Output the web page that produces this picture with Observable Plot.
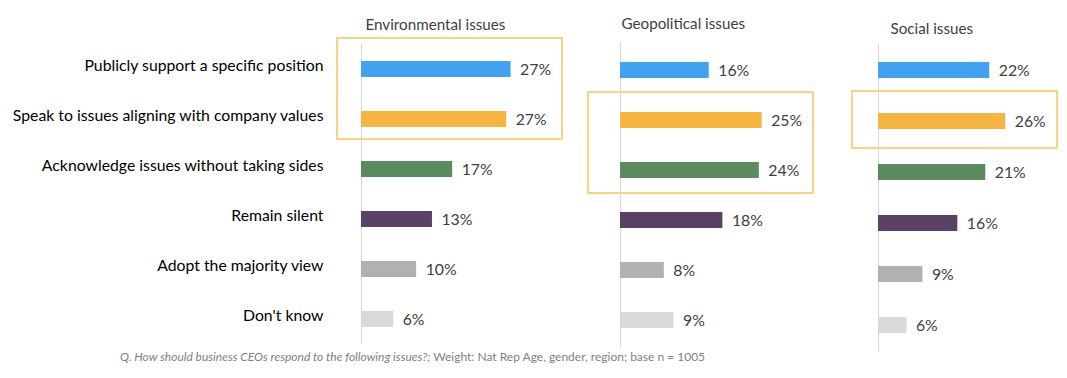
<!DOCTYPE html>
<html><head><meta charset="utf-8">
<script src="https://cdn.jsdelivr.net/npm/d3@7"></script>
<script src="https://cdn.jsdelivr.net/npm/@observablehq/plot@0.6"></script>
<style>
body{margin:0;background:#fff;overflow:hidden}
#chart{position:relative;width:1067px;height:378px;font-family:Lato,sans-serif}
#chart svg{position:absolute;top:0;overflow:visible;font-family:Lato,sans-serif}
#caption{position:absolute;left:120px;top:350px;font-size:12px;line-height:14px;color:#7f7f7f;white-space:nowrap}
</style></head><body><div id="chart"></div>
<script>
const responses = ["Publicly support a specific position","Speak to issues aligning with company values","Acknowledge issues without taking sides","Remain silent","Adopt the majority view","Don't know"];
const colors = ["#44a0f1","#f4b542","#5a8a5d","#5c4167","#b1b1b1","#d9d9d9"];
const panelTitles = ["Environmental issues","Geopolitical issues","Social issues"];
const environmental = [27.4, 26.6, 16.7, 13.0, 10.1, 5.9];
const geopolitical = [15.6, 24.9, 24.4, 18.0, 7.7, 9.4];
const social = [22.3, 25.5, 21.5, 15.9, 8.9, 5.7];
const environmentalLabels = ["27%","27%","17%","13%","10%","6%"];
const geopoliticalLabels = ["16%","25%","24%","18%","8%","9%"];
const socialLabels = ["22%","26%","21%","16%","9%","6%"];
const highlighted = [[responses[0], responses[1]], [responses[1], responses[2]], [responses[1]]];
const caption = ["Q. How should business CEOs respond to the following issues?;", " Weight: Nat Rep Age, gender, region; base n = 1005"];

// layout (styling only)
const layouts = [
  {left: 0,   ml: 361, ppu: 5.46, top: 44, bottom: 344, titleDx: 4,  titleY: 19, box: {l: -24, r: 201, t: 31, b: 20}, axis: true},
  {left: 580, ml: 40,  ppu: 5.69, top: 42, bottom: 347, titleDx: 1,  titleY: 18, box: {l: -32, r: 193, t: 28, b: 23}, axis: false},
  {left: 838, ml: 40,  ppu: 4.99, top: 44, bottom: 351, titleDx: 12, titleY: 23, box: {l: -26, r: 179, t: 30, b: 27}, axis: false}
];
const seriesValues = [environmental, geopolitical, social];
const seriesLabels = [environmentalLabels, geopoliticalLabels, socialLabels];
const xMax = 36;

function highlightBox(rows, b) {
  return (index, scales) => {
    const {x, y} = scales;
    const bw = y.bandwidth ? y.bandwidth() : 15;
    const c0 = y(rows[0]) + bw / 2;
    const c1 = y(rows[rows.length - 1]) + bw / 2;
    return d3.create("svg:rect")
      .attr("x", x(0) + b.l).attr("width", b.r - b.l)
      .attr("y", c0 - b.t).attr("height", (c1 + b.b) - (c0 - b.t))
      .attr("fill", "none").attr("stroke", "#f8d383").attr("stroke-width", 2)
      .node();
  };
}

const chart = document.getElementById("chart");
panelTitles.forEach((title, p) => {
  const L = layouts[p];
  const data = responses.map((r, i) => ({response: r, value: seriesValues[p][i], label: seriesLabels[p][i]}));
  const mr = 12;
  const width = L.ml + xMax * L.ppu + mr;
  const marks = [
    highlightBox(highlighted[p], L.box),
    Plot.ruleX([0], {stroke: "#d9d9d9", strokeWidth: 1.2}),
    Plot.barX(data, {x: "value", y: "response", fill: "response"}),
    Plot.text(data, {x: "value", y: "response", text: "label", dx: 9, textAnchor: "start", fill: "#404040", fontSize: 15.8}),
    Plot.text([title], {frameAnchor: "top-left", dx: L.titleDx, dy: L.titleY - L.top, textAnchor: "start", fill: "#404040", fontSize: 15.2})
  ];
  if (L.axis) marks.push(Plot.axisY({tickSize: 0, tickPadding: 38, fontSize: 15.8, fill: "#000", dy: -4, label: null}));
  const svg = Plot.plot({
    width, height: L.bottom + 8,
    marginLeft: L.ml, marginRight: mr, marginTop: L.top, marginBottom: 8,
    x: {domain: [0, xMax], axis: null},
    y: {domain: responses, paddingInner: 0.69, paddingOuter: 0.345, axis: null},
    color: {domain: responses, range: colors},
    style: {fontFamily: "Lato, sans-serif", background: "transparent", overflow: "visible"},
    marks
  });
  svg.style.left = L.left + "px";
  chart.appendChild(svg);
});

const cap = document.createElement("div");
cap.id = "caption";
cap.innerHTML = "<i>" + caption[0] + "</i>" + caption[1];
chart.appendChild(cap);
</script>
</body></html>
